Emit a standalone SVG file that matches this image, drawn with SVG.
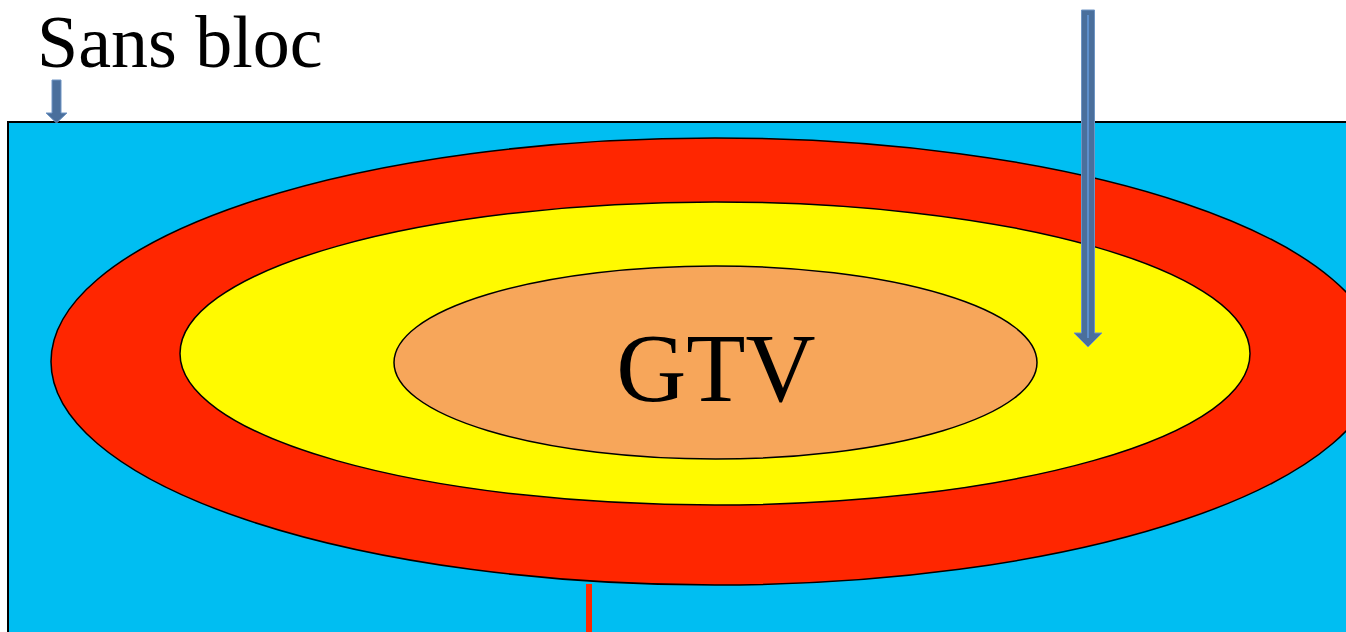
<svg xmlns="http://www.w3.org/2000/svg" width="1346" height="632" viewBox="0 0 1346 632">
<style>
.zone{stroke:#000;stroke-width:1.5}
.arrow{fill:#4a6f9c;stroke:#6f95c4;stroke-width:1}
.lbl{font-family:"Liberation Serif","Times New Roman",serif;fill:#000}
</style>
<rect width="1346" height="632" fill="#fff"/>
<g id="background">
<rect x="8" y="122" width="1400" height="560" fill="#00BEF2" stroke="#000" stroke-width="2"/>
</g>
<g id="ptv">
<ellipse class="zone" cx="715" cy="361.5" rx="664" ry="223.5" fill="#FF2600"/>
</g>
<g id="ctv">
<ellipse class="zone" cx="715" cy="353.5" rx="535" ry="151.5" fill="#FFFA00"/>
</g>
<g id="gtv">
<ellipse class="zone" cx="715.5" cy="362.5" rx="321.5" ry="96.5" fill="#F7A65A"/>
<text class="lbl" x="716" y="401" font-size="97" text-anchor="middle">GTV</text>
</g>
<g id="label-sans-bloc">
<text class="lbl" x="37" y="67" font-size="74">Sans bloc</text>
</g>
<g id="connectors">
<polygon class="arrow" points="52,80 61,80 61,113 67,113 56.5,123 46,113 52,113"/>
<polygon class="arrow" points="1081.5,10 1094.5,10 1094.5,333 1102,333 1088,347 1074,333 1081.5,333"/>
<line x1="1088" y1="15" x2="1088" y2="338" stroke="#5d8fcc" stroke-width="2"/>
<line x1="589" y1="584" x2="589" y2="632" stroke="#FF2600" stroke-width="6"/>
</g>
</svg>
